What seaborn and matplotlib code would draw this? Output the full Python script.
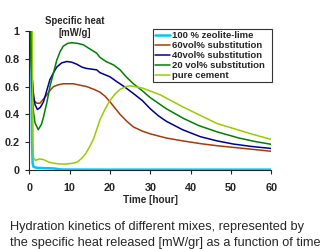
import matplotlib
matplotlib.use('Agg')
import matplotlib.pyplot as plt
import seaborn as sns
import pandas as pd

# ---- data ----
labels = ['100 % zeolite-lime', '60vol% substitution', '40vol% substitution',
          '20 vol% substitution', 'pure cement']
colors = ['#00C8F8', '#A63A0A', '#000090', '#008000', '#99CC00']

t_zeolite = [0.5, 0.55, 0.65, 0.8, 1.0, 1.5, 2.5, 6.0, 8.0, 20, 40, 60]
y_zeolite = [1.05, 0.6, 0.2, 0.05, 0.025, 0.018, 0.015, 0.012, 0.004, 0.003, 0.003, 0.003]

t_60 = [0.3, 0.35, 0.6, 1.0, 1.9, 2.6, 3.5, 4.3, 5.2, 6.0, 7.2, 8.4, 10.9, 12.5, 14.2, 16,
        17.5, 18.8, 20, 22.5, 24.2, 25.8, 28, 30, 34, 38, 42.4, 46.5, 50.6, 55, 60]
y_60 = [1.05, 1.0, 0.7, 0.50, 0.48, 0.48, 0.51, 0.54, 0.575, 0.60, 0.613, 0.62, 0.62, 0.61,
        0.60, 0.58, 0.56, 0.53, 0.49, 0.40, 0.35, 0.31, 0.28, 0.26, 0.23, 0.21, 0.19, 0.175,
        0.163, 0.15, 0.135]

t_40 = [0.25, 0.3, 0.6, 1.0, 1.4, 2.0, 2.7, 3.5, 4.3, 5.1, 6.0, 6.8, 8.0, 9.3, 10.5,
        11.8, 13, 14.2, 16.7, 17.5, 20, 21.7, 23.5, 25.8, 28, 30, 32, 34, 38, 42.4, 46.5,
        50.6, 55, 60]
y_40 = [1.05, 1.0, 0.7, 0.55, 0.47, 0.435, 0.45, 0.49, 0.57, 0.65, 0.70, 0.74, 0.77,
        0.78, 0.775, 0.76, 0.74, 0.73, 0.72, 0.70, 0.67, 0.635, 0.60, 0.55, 0.50, 0.44,
        0.39, 0.35, 0.29, 0.24, 0.21, 0.187, 0.17, 0.155]

t_20 = [0.2, 0.25, 0.6, 1.0, 1.4, 2.2, 3.0, 3.5, 4.3, 5.1, 6.0, 6.8, 7.6, 8.4, 9.5, 10.5, 12,
        13.4, 15, 16.7, 17.5, 19, 20.9, 22.5, 24, 25.8, 28, 30, 34, 38.3, 42, 46.5, 52, 56, 60]
y_20 = [1.05, 1.0, 0.6, 0.42, 0.34, 0.29, 0.33, 0.38, 0.48, 0.60, 0.70, 0.79, 0.85, 0.89,
        0.91, 0.915, 0.91, 0.90, 0.87, 0.84, 0.81, 0.78, 0.755, 0.72, 0.67, 0.62, 0.57, 0.52,
        0.44, 0.37, 0.32, 0.275, 0.23, 0.205, 0.185]

t_cement = [0.7, 0.8, 0.9, 1.0, 1.5, 2.5, 3.5, 5, 7, 9, 11, 12, 13, 14, 15, 16, 17.5,
            18.8, 20, 21.2, 22.5, 24, 25, 28, 32.5, 38, 46.5, 55, 60]
y_cement = [1.05, 0.6, 0.2, 0.09, 0.07, 0.08, 0.075, 0.055, 0.045, 0.043, 0.05, 0.06,
            0.085, 0.12, 0.17, 0.23, 0.36, 0.44, 0.50, 0.545, 0.58, 0.60, 0.605, 0.59,
            0.54, 0.455, 0.335, 0.26, 0.22]

series = [(t_zeolite, y_zeolite), (t_60, y_60), (t_40, y_40), (t_20, y_20), (t_cement, y_cement)]
frames = [pd.DataFrame({'t': t, 'q': y, 'mix': lab}) for (t, y), lab in zip(series, labels)]
df = pd.concat(frames, ignore_index=True)

x_ticks = [0, 10, 20, 30, 40, 50, 60]
y_ticks = [0, 0.2, 0.4, 0.6, 0.8, 1.0]
y_tick_labels = ['0', '0.2', '0.4', '0.6', '0.8', '1']

# ---- plot ----
sns.set_style('ticks')
plt.rcParams['font.family'] = ['Liberation Sans', 'DejaVu Sans']

fig = plt.figure(figsize=(3.3, 2.49), dpi=100)
ax = fig.add_axes([0.089, 0.317, 0.733, 0.559])

for lab, col in zip(labels, colors):
    lw = 1.8 if lab.startswith('100') else 1.1
    sns.lineplot(data=df[df['mix'] == lab], x='t', y='q', color=col, linewidth=lw,
                 label=lab, estimator=None, sort=False, ax=ax)

ax.set_xlim(0, 60)
ax.set_ylim(0, 1)
ax.set_xticks(x_ticks)
ax.set_yticks(y_ticks)
ax.set_yticklabels(y_tick_labels)
ax.tick_params(labelsize=7.8, length=3, width=0.8)
ax.tick_params(axis='x', pad=6)
ax.tick_params(axis='y', pad=4)
for lab in ax.get_xticklabels() + ax.get_yticklabels():
    lab.set_fontweight('bold')
sns.despine(ax=ax)
ax.spines['left'].set_linewidth(0.8)
ax.spines['bottom'].set_linewidth(0.8)

ax.set_xlabel('Time [hour]', fontsize=7.2, fontweight='bold', labelpad=2)
ax.set_ylabel('')

fig.text(75 / 330, 1 - 27 / 249, 'Specific heat\n[mW/g]', ha='center', va='center',
         fontsize=6.9, fontweight='bold', linespacing=1.15)

# legend box stretched to the width seen in the reference
leg = ax.legend(loc='upper left', bbox_to_anchor=(0.511, 0.714, 0.492, 0.30),
                mode='expand', borderaxespad=0,
                fancybox=False, frameon=True, edgecolor='black',
                prop={'size': 6.8, 'weight': 'bold'}, handlelength=1.6,
                handletextpad=0.15, labelspacing=0.1, borderpad=0.25)
leg.get_frame().set_linewidth(0.8)

fig.text(10 / 330, 1 - 230 / 249, 'Hydration kinetics of different mixes, represented by',
         ha='left', va='baseline', fontsize=9.2)
fig.text(10 / 330, 1 - 246 / 249, 'the specific heat released [mW/gr] as a function of time',
         ha='left', va='baseline', fontsize=9.2)

fig.savefig('out.png', dpi=100)
